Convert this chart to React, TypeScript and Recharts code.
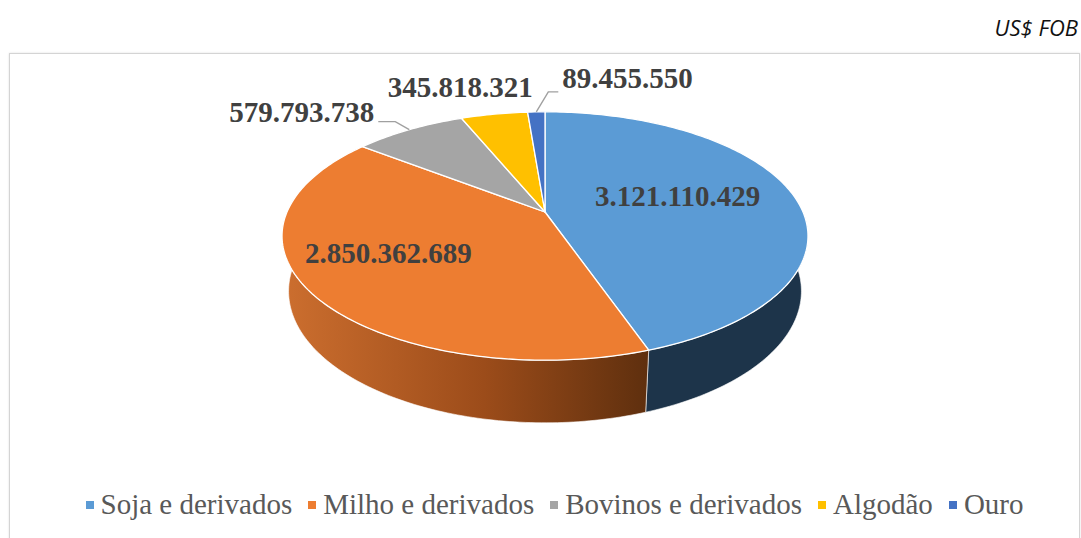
import { PieChart, Pie, Cell, Legend } from "recharts";

const CATEGORIES = ["Soja e derivados", "Milho e derivados", "Bovinos e derivados", "Algodão", "Ouro"];
const VALUES = [3121110429, 2850362689, 579793738, 345818321, 89455550];
const COLORS = ["#5B9BD5", "#ED7D31", "#A5A5A5", "#FFC000", "#4472C4"];
const SIDE_STOPS = [
  ["#2A4663", "#223B54", "#1D344A"],
  ["#CD6F2F", "#9C4C1A", "#5E2F0E"],
  ["#7C7C7C", "#636363", "#4A4A4A"],
  ["#C09000", "#A07800", "#806000"],
  ["#33568F", "#2A4776", "#21385E"],
];

// how each value label sits (inside fraction or offset from the rim)
const LABEL_LAYOUT = [
  { kind: "in", r: 0.53, dy: -6 },
  { kind: "in", r: 0.69, dy: -11 },
  { kind: "out", ex: -14, ey: -8, len: 17, ty: 0, anchor: "end", leader: true },
  { kind: "out", ex: -34, ey: -17, len: 0, ty: 0, anchor: "middle", leader: false },
  { kind: "out", ex: 12, ey: -20, len: 10, ty: -4, anchor: "start", leader: true },
];

const data = CATEGORIES.map((name, i) => ({ name, value: VALUES[i], fill: COLORS[i] }));

const TILT = (27.6 * Math.PI) / 180;
const DIST = 4.58;
const DEPTH = 0.2435;
const SERIF = "'Liberation Serif', 'Times New Roman', serif";

type Pt = { x: number; y: number };

function project(cx: number, cy: number, R: number, deg: number, r: number, h = 0): Pt {
  const a = (deg * Math.PI) / 180;
  const X = r * Math.cos(a);
  const Z = r * Math.sin(a);
  const c = Math.cos(TILT);
  const s = Math.sin(TILT);
  const w = DIST + Z * c + h * s;
  const yc = -h * c + Z * s;
  return { x: cx + (R * DIST * X) / w, y: cy - (R * DIST * yc) / w };
}

function rim(cx: number, cy: number, R: number, from: number, to: number, h = 0): Pt[] {
  const n = Math.max(2, Math.ceil(Math.abs(to - from)));
  const pts: Pt[] = [];
  for (let i = 0; i <= n; i++) pts.push(project(cx, cy, R, from + ((to - from) * i) / n, 1, h));
  return pts;
}

const toPath = (pts: Pt[]) =>
  pts.map((p, i) => `${i ? "L" : "M"}${p.x.toFixed(2)},${p.y.toFixed(2)}`).join("") + "Z";

function frontSpan(start: number, end: number): [number, number] | null {
  const lo = Math.min(start, end);
  const hi = Math.max(start, end);
  for (const shift of [0, -360, 360]) {
    const a = Math.max(lo, -180 + shift);
    const b = Math.min(hi, shift);
    if (b > a) return [a, b];
  }
  return null;
}

const fmt = (v: number) => String(v).replace(/\B(?=(\d{3})+(?!\d))/g, ".");

function Slice(props: any) {
  const { cx, cy, outerRadius, startAngle, endAngle, fill } = props;
  const idx = CATEGORIES.indexOf(props.name ?? props.payload?.name);
  const span = frontSpan(startAngle, endAngle);
  let wall = null;
  if (span) {
    const top = rim(cx, cy, outerRadius, span[1], span[0], 0);
    const bottom = rim(cx, cy, outerRadius, span[0], span[1], DEPTH);
    const stops = SIDE_STOPS[idx] ?? SIDE_STOPS[0];
    const gid = `wall-${idx}`;
    wall = (
      <g>
        <defs>
          <linearGradient id={gid} gradientUnits="userSpaceOnUse" x1={280} y1={0} x2={650} y2={0}>
            <stop offset="0%" stopColor={stops[0]} />
            <stop offset="55%" stopColor={stops[1]} />
            <stop offset="100%" stopColor={stops[2]} />
          </linearGradient>
        </defs>
        <path d={toPath([...top, ...bottom])} fill={`url(#${gid})`} stroke="rgba(255,255,255,0.6)" strokeWidth={1} />
      </g>
    );
  }
  const apex = project(cx, cy, outerRadius, 0, 0);
  const edge = rim(cx, cy, outerRadius, startAngle, endAngle, 0);
  return (
    <g>
      {wall}
      <path d={toPath([apex, ...edge])} fill={fill} stroke="#FFFFFF" strokeWidth={1.3} strokeLinejoin="round" />
    </g>
  );
}

function SliceLabel(props: any) {
  const { cx, cy, outerRadius, midAngle, value } = props;
  const idx = CATEGORIES.indexOf(props.name ?? props.payload?.name);
  const lay: any = LABEL_LAYOUT[idx];
  const textStyle = { fontFamily: SERIF, fontSize: 29, fontWeight: 700, fill: "#404040" };
  if (!lay) return null;
  if (lay.kind === "in") {
    const p = project(cx, cy, outerRadius, midAngle, lay.r);
    return (
      <text x={p.x} y={p.y + lay.dy + 10} textAnchor="middle" style={textStyle}>
        {fmt(value)}
      </text>
    );
  }
  const r0 = project(cx, cy, outerRadius, midAngle, 1);
  const elbow = { x: r0.x + lay.ex, y: r0.y + lay.ey };
  const sign = lay.anchor === "end" ? -1 : 1;
  const tail = { x: elbow.x + sign * lay.len, y: elbow.y };
  const tx = lay.anchor === "middle" ? elbow.x : tail.x + sign * 4;
  return (
    <g>
      {lay.leader && (
        <path
          d={`M${r0.x},${r0.y}L${elbow.x},${elbow.y}L${tail.x},${tail.y}`}
          fill="none"
          stroke="#A0A0A0"
          strokeWidth={1.4}
        />
      )}
      <text x={tx} y={elbow.y + lay.ty} textAnchor={lay.anchor} style={textStyle}>
        {fmt(value)}
      </text>
    </g>
  );
}

function LegendContent({ payload }: any) {
  const items = [...(payload ?? [])].sort(
    (a: any, b: any) => CATEGORIES.indexOf(a.value) - CATEGORIES.indexOf(b.value)
  );
  return (
    <div
      style={{
        display: "flex",
        justifyContent: "center",
        gap: 16,
        paddingLeft: 28,
        fontFamily: SERIF,
        fontSize: 29,
        color: "#595959",
        lineHeight: "34px",
      }}
    >
      {items.map((p: any) => (
        <span key={p.value} style={{ display: "flex", alignItems: "center", whiteSpace: "nowrap", fontFamily: SERIF }}>
          <span style={{ width: 8, height: 8, background: p.color, marginRight: 7, marginTop: 2 }} />
          {p.value}
        </span>
      ))}
    </div>
  );
}

export default function App() {
  return (
    <div style={{ position: "absolute", left: 0, top: 0, width: 1081, height: 538, background: "#fff", overflow: "hidden" }}>
      <div
        style={{
          position: "absolute",
          right: 3,
          top: 12,
          fontFamily: "'Open Sans', 'Noto Sans', sans-serif",
          fontStyle: "italic",
          fontSize: 22,
          lineHeight: "30px",
          color: "#111",
        }}
      >
        US$ FOB
      </div>
      <div
        style={{
          position: "absolute",
          left: 9,
          top: 53,
          width: 1069,
          height: 520,
          border: "1px solid #D4D4D4",
          boxShadow: "0 0 2px rgba(0,0,0,0.12)",
        }}
      />
      <div style={{ position: "absolute", left: 0, top: 0 }}>
        <PieChart width={1081} height={538} margin={{ top: 0, right: 0, bottom: 0, left: 0 }}>
          <Pie
            data={data}
            dataKey="value"
            nameKey="name"
            cx={545}
            cy={212}
            outerRadius={258}
            startAngle={90}
            endAngle={-270}
            stroke="none"
            shape={Slice}
            label={SliceLabel}
            labelLine={false}
            isAnimationActive={false}
          >
            {data.map((d) => (
              <Cell key={d.name} fill={d.fill} />
            ))}
          </Pie>
          <Legend
            content={LegendContent}
            wrapperStyle={{ position: "absolute", left: 0, top: 487, width: 1081 }}
          />
        </PieChart>
      </div>
    </div>
  );
}
